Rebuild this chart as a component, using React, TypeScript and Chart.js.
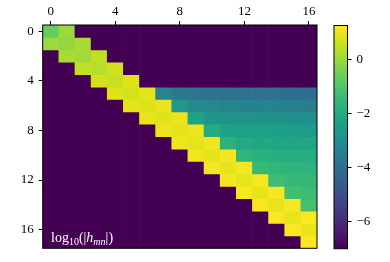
import React, { useEffect, useRef } from 'react';
import { Chart, registerables } from 'chart.js';

Chart.register(...registerables);

// ---- data (log10 |h_mn|) ----
const columns = [0, 1, 2, 3, 4, 5, 6, 7, 8, 9, 10, 11, 12, 13, 14, 15, 16];
const rows = [0, 1, 2, 3, 4, 5, 6, 7, 8, 9, 10, 11, 12, 13, 14, 15, 16, 17];
const diagonal = [-0.69, -0.07, 0.1, 0.34, 0.55, 0.71, 0.82, 0.85, 0.88, 0.9, 0.92, 0.93, 0.94, 0.95, 0.96, 0.96, 0.97];
// h[i][i+1] = h[i+1][i]
const offDiagonal = [0.01, 0.18, 0.47, 0.67, 0.84, 0.92, 0.98, 1.02, 1.06, 1.09, 1.12, 1.15, 1.17, 1.19, 1.21, 1.23, 1.25];
// upper-triangle values, row r starting at column r+2
const upperRow5 = [-3.29, -3.7, -3.78, -3.91, -3.95, -3.95, -3.99, -3.99, -4.03, -4.03];
const upperRow6 = [-2.63, -3.08, -3.16, -3.29, -3.33, -3.37, -3.37, -3.41, -3.45];
const upperRow7 = [-2.26, -2.67, -2.79, -2.83, -2.88, -2.88, -2.92, -2.92];
const upperRow8 = [-1.97, -2.26, -2.34, -2.38, -2.42, -2.42, -2.46];
const upperRow9 = [-1.76, -2.01, -2.09, -2.13, -2.13, -2.17];
const upperRow10 = [-1.6, -1.76, -1.84, -1.89, -1.89];
const upperRow11 = [-1.47, -1.6, -1.64, -1.68];
const upperRow12 = [-1.35, -1.47, -1.51];
const upperRow13 = [-1.27, -1.39];
const upperRow14 = [-1.22];
const upperFirstRow = 5;
const floorValue = -7;

const xTicks = [0, 4, 8, 12, 16];
const yTicks = [0, 4, 8, 12, 16];
const colorbarTicks = [0, -2, -4, -6];
const vmin = -7;
const vmax = 1.25;

// ---- colormap ----
const VIRIDIS = [
  '#440154', '#471365', '#482475', '#463480', '#414487', '#3b528b', '#355f8d',
  '#2f6c8e', '#2a788e', '#25848e', '#21918c', '#1e9c89', '#22a884', '#2fb47c',
  '#44bf70', '#5ec962', '#7ad151', '#9bd93c', '#bddf26', '#dfe318', '#fde725',
];
function hexToRgb(h: string) {
  return [parseInt(h.slice(1, 3), 16), parseInt(h.slice(3, 5), 16), parseInt(h.slice(5, 7), 16)];
}
function viridis(t: number) {
  const n = VIRIDIS.length - 1;
  const x = Math.min(1, Math.max(0, t)) * n;
  const i = Math.min(n - 1, Math.floor(x));
  const f = x - i;
  const a = hexToRgb(VIRIDIS[i]);
  const b = hexToRgb(VIRIDIS[i + 1]);
  const c = a.map((v, k) => Math.round(v + (b[k] - v) * f));
  return `rgb(${c[0]},${c[1]},${c[2]})`;
}
function colorFor(v: number) {
  return viridis((v - vmin) / (vmax - vmin));
}

const upperRows = [upperRow5, upperRow6, upperRow7, upperRow8, upperRow9, upperRow10, upperRow11, upperRow12, upperRow13, upperRow14];

function valueAt(r: number, c: number) {
  if (c === r && r < diagonal.length) return diagonal[r];
  if (c === r + 1) return offDiagonal[r];
  if (c === r - 1) return offDiagonal[c];
  if (c >= r + 2) {
    const row = upperRows[r - upperFirstRow];
    if (row) return row[c - (r + 2)];
  }
  return floorValue;
}

const FONT = "'Liberation Serif', 'DejaVu Serif', serif";
const fmt = (v: number) => (v < 0 ? '\u2212' + Math.abs(v) : String(v));

const framePlugin = {
  id: 'frame',
  afterDatasetsDraw(chart: any) {
    const { ctx, chartArea: a } = chart;
    ctx.save();
    ctx.strokeStyle = '#000';
    ctx.lineWidth = 1;
    ctx.strokeRect(a.left, a.top, a.right - a.left, a.bottom - a.top);
    ctx.restore();
  },
};

const gradientPlugin = {
  id: 'cbGradient',
  beforeDatasetsDraw(chart: any) {
    const { ctx, chartArea: a } = chart;
    const g = ctx.createLinearGradient(0, a.bottom, 0, a.top);
    VIRIDIS.forEach((c, i) => g.addColorStop(i / (VIRIDIS.length - 1), c));
    ctx.save();
    ctx.fillStyle = g;
    ctx.fillRect(a.left, a.top, a.right - a.left, a.bottom - a.top);
    ctx.restore();
  },
};

export default function App() {
  const mainRef = useRef<HTMLCanvasElement>(null);
  const cbRef = useRef<HTMLCanvasElement>(null);

  useEffect(() => {
    const overlap = 0.03;
    const datasets = rows.map((r) => ({
      data: columns.map((c) => ({ x: c, y: [r - 0.5 - overlap, r + 0.5 + overlap] })),
      backgroundColor: columns.map((c) => colorFor(valueAt(r, c))),
      borderWidth: 0,
      barPercentage: 1.04,
      categoryPercentage: 1.0,
      grouped: false,
    }));

    const tickFont = { family: FONT, size: 13 };

    const main = new Chart(mainRef.current!, {
      type: 'bar',
      data: { datasets: datasets as any },
      options: {
        animation: false,
        responsive: false,
        devicePixelRatio: 1,
        layout: { padding: { left: 0, right: 13, top: 0, bottom: 13.7 } },
        plugins: { legend: { display: false }, tooltip: { enabled: false } },
        scales: {
          x: {
            type: 'linear',
            position: 'top',
            min: -0.5,
            max: 16.5,
            offset: false,
            afterBuildTicks: (s: any) => { s.ticks = xTicks.map((v) => ({ value: v })); },
            afterFit: (s: any) => { s.height = 25; },
            ticks: { font: tickFont, color: '#000', padding: 2, maxRotation: 0, autoSkip: false, callback: (v: any) => fmt(Number(v)) },
            grid: { display: true, drawOnChartArea: false, drawTicks: true, tickLength: 4, color: '#000', offset: false },
            border: { display: false },
          },
          y: {
            type: 'linear',
            reverse: true,
            min: -0.5,
            max: 17.5,
            beginAtZero: false,
            afterBuildTicks: (s: any) => { s.ticks = yTicks.map((v) => ({ value: v })); },
            afterFit: (s: any) => { s.width = 42.7; },
            ticks: { font: tickFont, color: '#000', padding: 5, autoSkip: false, callback: (v: any) => fmt(Number(v)) },
            grid: { display: true, drawOnChartArea: false, drawTicks: true, tickLength: 4, color: '#000' },
            border: { display: false },
          },
        },
      },
      plugins: [framePlugin],
    } as any);

    const cb = new Chart(cbRef.current!, {
      type: 'scatter',
      data: { datasets: [{ data: [] }] },
      options: {
        animation: false,
        responsive: false,
        devicePixelRatio: 1,
        layout: { padding: { left: 4, right: 0, top: 25.5, bottom: 13.3 } },
        plugins: { legend: { display: false }, tooltip: { enabled: false } },
        scales: {
          x: { display: false, min: 0, max: 1 },
          y: {
            type: 'linear',
            position: 'right',
            min: vmin,
            max: vmax,
            afterBuildTicks: (s: any) => { s.ticks = colorbarTicks.map((v) => ({ value: v })); },
            afterFit: (s: any) => { s.width = 42.5; },
            ticks: { font: tickFont, color: '#000', padding: 5, autoSkip: false, callback: (v: any) => fmt(Number(v)) },
            grid: { display: true, drawOnChartArea: false, drawTicks: true, tickLength: 4, color: '#000' },
            border: { display: false },
          },
        },
      },
      plugins: [gradientPlugin, framePlugin],
    } as any);

    return () => {
      main.destroy();
      cb.destroy();
    };
  }, []);

  const subStyle: React.CSSProperties = { fontSize: '10px', verticalAlign: '-3px', lineHeight: 0 };

  return (
    <div style={{ position: 'fixed', left: 0, top: 0, width: 390, height: 262, background: '#fff' }}>
      <canvas ref={mainRef} width={330} height={262} style={{ position: 'absolute', left: 0, top: 0 }} />
      <canvas ref={cbRef} width={60} height={262} style={{ position: 'absolute', left: 330, top: 0 }} />
      <div
        style={{
          position: 'absolute',
          left: 51,
          top: 231,
          fontFamily: FONT,
          fontSize: '14px',
          lineHeight: '14px',
          color: '#ffffff',
          whiteSpace: 'nowrap',
        }}
      >
        log<span style={subStyle}>10</span>(|<i>h</i>
        <span style={subStyle}><i>mn</i></span>|)
      </div>
    </div>
  );
}
